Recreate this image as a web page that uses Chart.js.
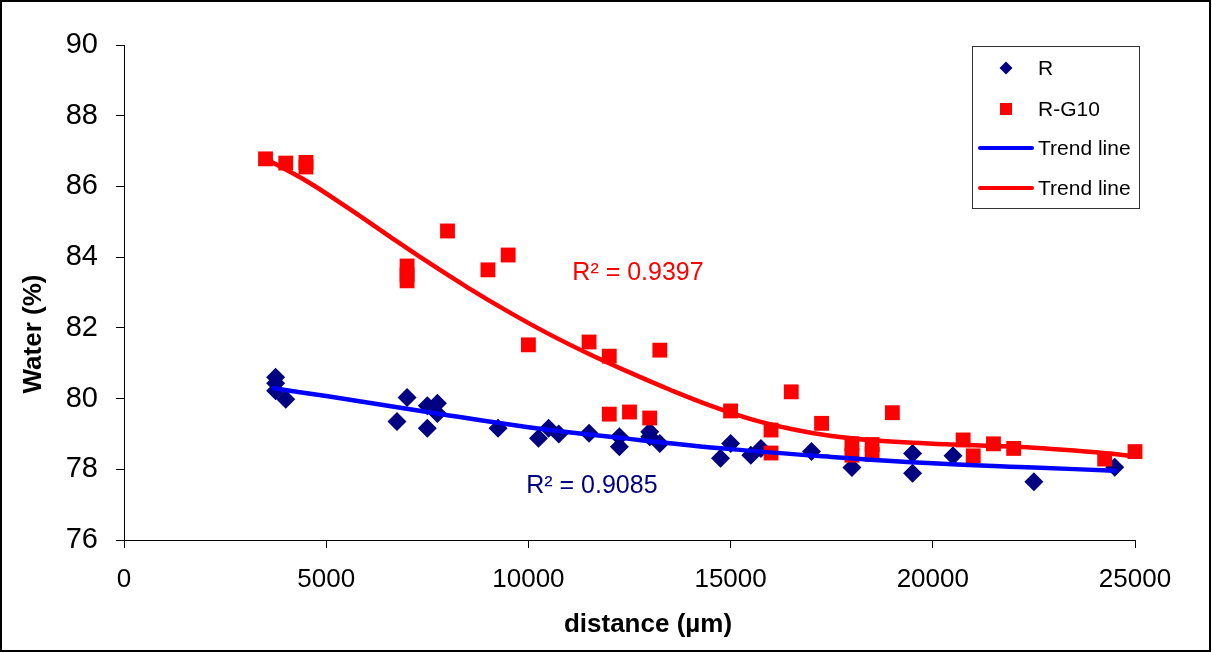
<!DOCTYPE html>
<html>
<head>
<meta charset="utf-8">
<title>Water vs distance</title>
<script src="https://cdn.jsdelivr.net/npm/chart.js@4.4.0/dist/chart.umd.min.js"></script>
<style>
  html, body { margin: 0; padding: 0; background: #fff; }
  #wrap { width: 1212px; height: 653px; }
</style>
</head>
<body>
<div id="wrap"><canvas id="waterChart" width="1212" height="653"></canvas></div>
<script>
// ---- data ----
const rDistance = [3750,3750,3750,4000,6750,7000,7500,7500,7750,7750,9250,10250,10500,10750,11500,12250,12250,13000,13000,13250,14750,15000,15500,15750,17000,18000,19500,19500,20500,22500,24500];
const rWater = [80.6,80.43,80.22,79.98,79.35,80.03,79.8,79.16,79.87,79.58,79.16,78.88,79.16,79.0,79.02,78.92,78.64,79.06,78.92,78.73,78.31,78.73,78.4,78.59,78.5,78.05,78.45,77.89,78.38,77.65,78.06];

const rg10Distance = [3500,4000,4500,4500,7000,7000,7000,8000,9000,9500,10000,11500,12000,12000,12500,13000,13250,15000,16000,16000,16500,17250,18000,18000,18500,18500,19000,20750,21000,21500,22000,24250,25000];
const rg10Water = [86.78,86.66,86.68,86.55,83.75,83.5,83.33,84.74,83.64,84.06,81.52,81.6,81.2,79.56,79.62,79.45,81.37,79.65,79.11,78.46,80.19,79.3,78.72,78.4,78.7,78.42,79.6,78.83,78.38,78.72,78.59,78.29,78.5];

// trend lines
const rTrendDistance = [3700,5000,7500,10000,12500,15000,17500,20000,22500,24500];
const rTrendWater = [80.29,80.07,79.62,79.19,78.86,78.57,78.35,78.17,78.05,77.96];

const rg10TrendDistance = [3500,4500,5500,6500,7500,8500,9500,10500,11500,12500,13500,14500,15500,16500,17500,18500,19500,20500,21500,22500,23500,24500,25000];
const rg10TrendWater = [86.78,86.16,85.42,84.64,83.87,83.14,82.46,81.83,81.26,80.74,80.25,79.8,79.42,79.14,78.94,78.82,78.75,78.7,78.66,78.61,78.53,78.43,78.36];

const xTicks = [0,5000,10000,15000,20000,25000];
const yTicks = [76,78,80,82,84,86,88,90];

const seriesLabels = ['R','R-G10','Trend line','Trend line'];
const xTitle = 'distance (µm)';
const yTitle = 'Water (%)';
const r2Notes = [
  {text: 'R² = 0.9397', x: 12710, y: 83.55, color: '#FF0000'},
  {text: 'R² = 0.9085', x: 11570, y: 77.53, color: '#000080'}
];

const chartFont = "'Liberation Sans', Arial, sans-serif";

function toPoints(xs, ys){
  return xs.map((x,i) => ({x: x, y: ys[i]}));
}

// frame, axis titles, R² notes and the boxed legend
const decorations = {
  id: 'decorations',
  beforeDraw(chart){
    const ctx = chart.ctx;
    ctx.save();
    ctx.fillStyle = '#fff';
    ctx.fillRect(0,0,chart.width,chart.height);
    ctx.restore();
  },
  afterDraw(chart){
    const ctx = chart.ctx;
    const xs = chart.scales.x, ys = chart.scales.y;
    ctx.save();
    // outer frame
    ctx.strokeStyle = '#000';
    ctx.lineWidth = 2;
    ctx.strokeRect(1,1,chart.width-3,chart.height-3);

    // axis titles
    ctx.fillStyle = '#000';
    ctx.font = 'bold 26px ' + chartFont;
    ctx.textAlign = 'center';
    ctx.textBaseline = 'middle';
    ctx.fillText(xTitle, 648, 625);
    ctx.save();
    ctx.translate(34, 334);
    ctx.rotate(-Math.PI/2);
    ctx.fillText(yTitle, 0, 0);
    ctx.restore();

    // R² notes
    ctx.font = '25px ' + chartFont;
    r2Notes.forEach(n => {
      ctx.fillStyle = n.color;
      ctx.fillText(n.text, xs.getPixelForValue(n.x), ys.getPixelForValue(n.y));
    });

    // legend box
    ctx.strokeStyle = '#333';
    ctx.lineWidth = 1;
    ctx.strokeRect(972.5,46.5,167,162);
    const rows = [68,109,148,188];
    ctx.font = '21px ' + chartFont;
    ctx.textAlign = 'left';
    chart.data.datasets.forEach((ds,i) => {
      const y = rows[i];
      if (ds.showLine){
        ctx.strokeStyle = ds.borderColor;
        ctx.lineWidth = 4;
        ctx.lineCap = 'round';
        ctx.beginPath();
        ctx.moveTo(980,y);
        ctx.lineTo(1032,y);
        ctx.stroke();
      } else {
        ctx.fillStyle = ds.backgroundColor;
        ctx.beginPath();
        if (ds.pointStyle === 'rectRot'){
          ctx.moveTo(1006,y-6.5); ctx.lineTo(1012.5,y); ctx.lineTo(1006,y+6.5); ctx.lineTo(999.5,y);
        } else {
          ctx.rect(1000,y-6,12,12);
        }
        ctx.closePath();
        ctx.fill();
      }
      ctx.fillStyle = '#000';
      ctx.fillText(ds.label, 1038, y+1);
    });
    ctx.restore();
  }
};

const ctx = document.getElementById('waterChart').getContext('2d');
const waterChart = new Chart(ctx, {
  type: 'scatter',
  data: {
    datasets: [
      {
        label: seriesLabels[0],
        data: toPoints(rDistance, rWater),
        pointStyle: 'rectRot',
        pointRadius: 9.5,
        backgroundColor: '#000080',
        borderColor: '#000080',
        borderWidth: 0,
        clip: false,
        order: 3
      },
      {
        label: seriesLabels[1],
        data: toPoints(rg10Distance, rg10Water),
        pointStyle: 'rect',
        pointRadius: 10.5,
        backgroundColor: '#FF0000',
        borderColor: '#FF0000',
        borderWidth: 0,
        clip: false,
        order: 2
      },
      {
        label: seriesLabels[2],
        data: toPoints(rTrendDistance, rTrendWater),
        showLine: true,
        borderColor: '#0000FF',
        backgroundColor: '#0000FF',
        borderWidth: 4.5,
        pointRadius: 0,
        tension: 0.4,
        borderCapStyle: 'round',
        order: 1
      },
      {
        label: seriesLabels[3],
        data: toPoints(rg10TrendDistance, rg10TrendWater),
        showLine: true,
        borderColor: '#FF0000',
        backgroundColor: '#FF0000',
        borderWidth: 4.5,
        pointRadius: 0,
        tension: 0.4,
        borderCapStyle: 'round',
        order: 0
      }
    ]
  },
  options: {
    responsive: false,
    animation: false,
    events: [],
    layout: { padding: { left: 0, top: 45, right: 77, bottom: 0 } },
    plugins: {
      legend: { display: false },
      tooltip: { enabled: false }
    },
    scales: {
      x: {
        type: 'linear',
        min: 0,
        max: 25000,
        afterBuildTicks: s => { s.ticks = xTicks.map(v => ({value: v})); },
        afterFit: s => { s.height = 113; },
        grid: { drawOnChartArea: false, drawTicks: true, tickLength: 8, color: '#000', lineWidth: 1 },
        border: { display: true, color: '#000', width: 1 },
        ticks: {
          color: '#000',
          padding: 16,
          maxRotation: 0,
          font: { family: chartFont, size: 26 },
          callback: v => String(v)
        }
      },
      y: {
        type: 'linear',
        min: 76,
        max: 90,
        afterBuildTicks: s => { s.ticks = yTicks.map(v => ({value: v})); },
        afterFit: s => { s.width = 124; },
        grid: { drawOnChartArea: false, drawTicks: true, tickLength: 8, color: '#000', lineWidth: 1 },
        border: { display: true, color: '#000', width: 1 },
        ticks: {
          color: '#000',
          padding: 18,
          font: { family: chartFont, size: 29 },
          callback: v => String(v)
        }
      }
    }
  },
  plugins: [decorations]
});
</script>
</body>
</html>
